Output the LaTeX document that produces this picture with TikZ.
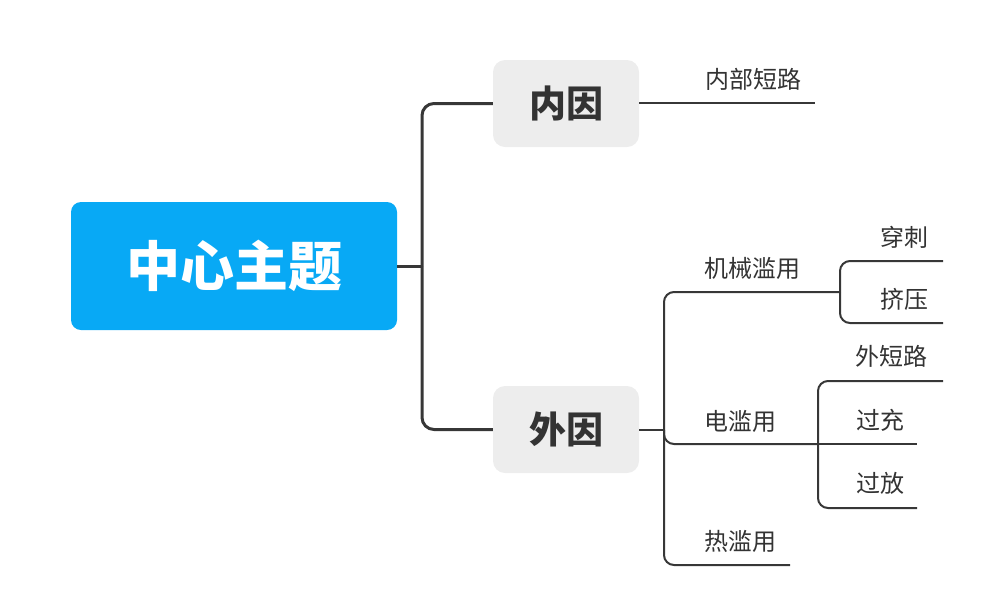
\documentclass[tikz,border=0pt]{standalone}
\usepackage{fontspec}
\newfontfamily\cjk{Noto Sans CJK SC}
\definecolor{rootblue}{RGB}{8,169,245}
\definecolor{catgray}{RGB}{237,237,237}
\definecolor{ink}{RGB}{51,51,51}
\definecolor{linec}{RGB}{55,55,55}
\begin{document}
\begin{tikzpicture}[x=1pt,y=-1pt,
  rootbox/.style={fill=rootblue, rounded corners=10pt, minimum width=326pt, minimum height=128pt, inner sep=0pt,
    text=white, font=\cjk\bfseries\fontsize{54}{54}\selectfont},
  catbox/.style={fill=catgray, rounded corners=12pt, minimum width=146pt, minimum height=87pt, inner sep=0pt,
    text=ink, font=\cjk\bfseries\fontsize{37}{37}\selectfont},
  leaf/.style={inner sep=0pt, text=ink, font=\cjk\fontsize{24}{24}\selectfont},
  mainline/.style={draw=linec, line width=3pt, rounded corners=12pt},
  subline/.style={draw=linec, line width=2pt, rounded corners=10pt}]
\useasboundingbox (0,0) rectangle (1000,606);
% nodes
\node[rootbox] (root) at (234,266) {中心主题};
\node[catbox] (nei) at (566,103.5) {内因};
\node[catbox] (wai) at (566,429.5) {外因};
\node[leaf] (nbdl) at (753,79) {内部短路};
\node[leaf] (jxly) at (752,268) {机械滥用};
\node[leaf] (dly) at (740,421) {电滥用};
\node[leaf] (rly) at (740,541) {热滥用};
\node[leaf] (cc) at (904,237) {穿刺};
\node[leaf] (jy) at (904,299) {挤压};
\node[leaf] (wdl) at (891,356) {外短路};
\node[leaf] (gc) at (880,420) {过充};
\node[leaf] (gf) at (880,483) {过放};
% coordinates
\coordinate (j0) at (422,266);
\coordinate (j1) at (664,430);
\coordinate (k1) at (840,292);
\coordinate (k2) at (818,444);
\coordinate (e1) at (815,103);
\coordinate (ecc) at (943,261);
\coordinate (ejy) at (943,323);
\coordinate (ewdl) at (943,381);
\coordinate (egc) at (917,444);
\coordinate (egf) at (917,508);
\coordinate (erly) at (790,565);
% connectors
\draw[mainline] (root.east) -- (j0);
\draw[mainline] (nei.west) -| (j0);
\draw[mainline] (wai.west) -| (j0);
\draw[subline] (nei.east |- e1) -- (e1);
\draw[subline] (wai.east |- j1) -- (j1);
\draw[subline] (j1) |- (k1);
\draw[subline] (j1) |- (k2);
\draw[subline] (j1) |- (erly);
\draw[subline] (k1) |- (ecc);
\draw[subline] (k1) |- (ejy);
\draw[subline] (k2) |- (ewdl);
\draw[subline] (k2) -- (egc);
\draw[subline] (k2) |- (egf);
\end{tikzpicture}
\end{document}
